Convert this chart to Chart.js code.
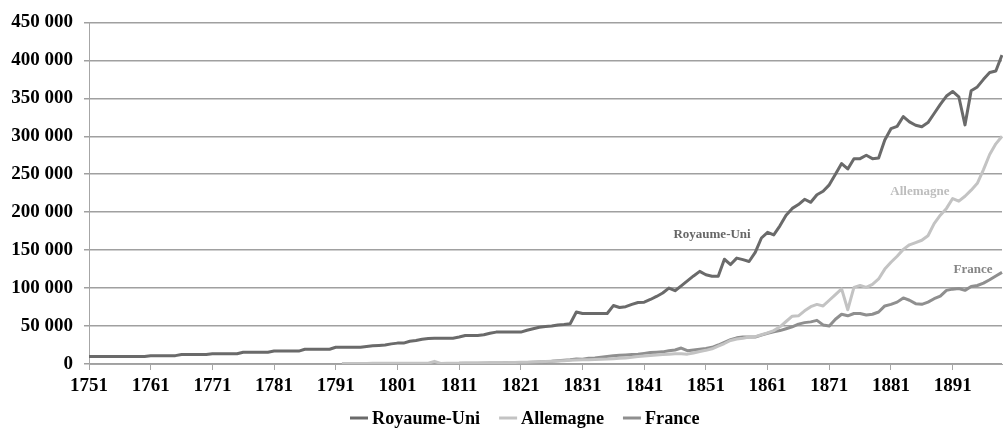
<!DOCTYPE html>
<html>
<head>
<meta charset="utf-8">
<script src="https://cdn.jsdelivr.net/npm/chart.js@4.4.1/dist/chart.umd.min.js"></script>
<style>
html,body{margin:0;padding:0;background:#fff;}
#wrap{width:1003px;height:430px;position:relative;}
</style>
</head>
<body>
<div id="wrap"><canvas id="c" width="1003" height="430"></canvas></div>
<script>
// Years 1751..1899
const firstYear = 1751;
const lastYear = 1899;
const seriesNames = ["Royaume-Uni", "Allemagne", "France"];

// Royaume-Uni, 1751..1899
const ukValues = [
  9800,9800,9800,9800,9800,9800,9800,9800,9800,9800,          // 1751-1760
  11000,11000,11000,11000,11000,12500,12500,12500,12500,12500, // 1761-1770
  13500,13500,13500,13500,13500,15500,15500,15500,15500,15500, // 1771-1780
  17000,17000,17000,17000,17000,19500,19500,19500,19500,19500, // 1781-1790
  22000,22000,22000,22000,22000,23000,24000,24500,25000,26500, // 1791-1800
  27500,27500,30000,31000,32500,33500,34000,34000,34000,34000, // 1801-1810
  35500,37500,37500,37500,38500,40500,42000,42000,42000,42000, // 1811-1820
  42000,44500,46500,48500,49500,50000,51500,52000,53000,68500, // 1821-1830
  66500,66500,66500,66500,66500,77000,74500,75500,78500,81000, // 1831-1840
  81500,85000,89000,93500,100000,96500,103000,109500,116000,122000, // 1841-1850
  117500,115500,115500,138000,131000,139500,137500,135000,147000,166000, // 1851-1860
  173500,170000,182000,196000,205000,210000,217000,213000,223000,227500, // 1861-1870
  236000,250000,264000,257000,270500,270500,275000,270500,271500,295000, // 1871-1880
  310000,313000,326000,319000,314500,312500,318000,330000,342000,353000, // 1881-1890
  359000,352000,315000,360000,365000,375000,384000,386000,407000        // 1891-1899
];

// Allemagne, from 1792..1899
const deStart = 1792;
const deValues = [
  600,800,800,800,800,900,900,900,900,900,               // 1792-1801
  1000,1000,1000,1000,1000,3500,800,900,1000,1100,      // 1802-1811
  1200,1300,1400,1500,1600,1700,1800,1900,2000,2200,    // 1812-1821
  2400,2700,3000,3400,3700,4000,4400,4800,5300,5500,    // 1822-1831
  5600,6000,6300,6500,7000,7500,8000,8800,9800,10500,   // 1832-1841
  11200,11700,12400,13000,13400,13400,13000,14500,16500,18000, // 1842-1851
  20000,23500,27000,31000,33000,34000,35500,36000,38500,41000, // 1852-1861
  44000,49000,56000,63000,63500,70000,75500,78500,76500,84000, // 1862-1871
  91500,99000,71500,101000,103500,101000,105000,112000,125000,134000, // 1872-1881
  142000,151000,157000,160000,163000,169000,185000,196000,205000,218000, // 1882-1891
  214500,221000,229000,238000,256000,276000,290000,300000  // 1892-1899
];

// France, from 1811..1899
const frStart = 1811;
const frValues = [
  900,1000,1000,1100,1100,1200,1300,1400,1500,1600,     // 1811-1820
  1800,2000,2300,2600,3000,3500,4300,5000,5500,6500,    // 1821-1830
  6200,7500,8000,9000,10000,11000,11500,12000,12500,13000, // 1831-1840
  14000,15000,15500,16000,17500,18500,21000,17500,18500,19500, // 1841-1850
  20500,22000,25000,28500,32000,34500,35500,35500,35500,38000, // 1851-1860
  40500,42500,44000,46500,49000,52500,54500,55500,57500,51500, // 1861-1870
  50000,59000,65500,63500,66500,66500,64500,65500,68500,76500, // 1871-1880
  78500,81500,87000,84000,79500,78600,81500,86000,89500,97000, // 1881-1890
  98600,99500,97000,102000,103400,106500,111000,116000,120700  // 1891-1899
];

const yTickMax = 450000;
const yTickStep = 50000;
const xLabelEvery = 10;

// Build category labels and aligned series
const years = [];
for (let y = firstYear; y <= lastYear; y++) years.push(String(y));
function align(start, vals) {
  return years.map((y, i) => {
    const k = (+y) - start;
    return (k >= 0 && k < vals.length) ? vals[k] : null;
  });
}

const colors = ["#6a6a6a", "#c3c3c3", "#8f8f8f"];
const labelColors = ["#666666", "#bdbdbd", "#858585"];
// In-chart series labels: [year, value] anchor from the picture
const seriesLabelAnchors = [[1852, 171000], [1885.7, 227000], [1894.3, 124000]];

const FONT = "'Liberation Serif', 'Times New Roman', serif";

const labelPlugin = {
  id: 'seriesLabels',
  afterDatasetsDraw(chart) {
    const ctx = chart.ctx;
    const xs = chart.scales.x, ys = chart.scales.y;
    ctx.save();
    ctx.font = "bold 13px " + FONT;
    ctx.textAlign = 'center';
    ctx.textBaseline = 'middle';
    seriesNames.forEach((n, i) => {
      const [yr, v] = seriesLabelAnchors[i];
      const idx = yr - firstYear;
      const x0 = xs.getPixelForValue(Math.floor(idx));
      const x1 = xs.getPixelForValue(Math.floor(idx) + 1);
      const px = x0 + (x1 - x0) * (idx - Math.floor(idx));
      ctx.fillStyle = labelColors[i];
      ctx.fillText(n, px, ys.getPixelForValue(v));
    });
    ctx.restore();
  }
};

// Legend drawn on the canvas (line sample + bold label)
const legendPlugin = {
  id: 'bottomLegend',
  afterDraw(chart) {
    const ctx = chart.ctx;
    ctx.save();
    ctx.textBaseline = 'middle';
    ctx.textAlign = 'left';
    // size the font so that the first label is about 108 px wide
    ctx.font = "bold 20px " + FONT;
    const w20 = ctx.measureText(seriesNames[0]).width;
    const fs = Math.max(14, Math.min(24, 20 * 108 / w20));
    ctx.font = "bold " + fs.toFixed(1) + "px " + FONT;
    const yMid = 418;
    const sample = 18, gapText = 4, gapItem = 19;
    let x = 350;
    const widths = seriesNames.map(n => ctx.measureText(n).width);
    seriesNames.forEach((n, i) => {
      ctx.strokeStyle = colors[i];
      ctx.lineWidth = 3;
      ctx.beginPath();
      ctx.moveTo(x, yMid);
      ctx.lineTo(x + sample, yMid);
      ctx.stroke();
      x += sample + gapText;
      ctx.fillStyle = '#000';
      ctx.fillText(n, x, yMid + 1);
      x += widths[i] + gapItem;
    });
    ctx.restore();
  }
};

new Chart(document.getElementById('c'), {
  type: 'line',
  data: {
    labels: years,
    datasets: [
      { label: seriesNames[0], data: ukValues, borderColor: colors[0], backgroundColor: colors[0], borderWidth: 3 },
      { label: seriesNames[1], data: align(deStart, deValues), borderColor: colors[1], backgroundColor: colors[1], borderWidth: 3 },
      { label: seriesNames[2], data: align(frStart, frValues), borderColor: colors[2], backgroundColor: colors[2], borderWidth: 3 }
    ]
  },
  options: {
    responsive: false,
    animation: false,
    devicePixelRatio: 1,
    elements: { point: { radius: 0 }, line: { tension: 0, borderJoinStyle: 'round', borderCapStyle: 'butt' } },
    layout: { padding: { top: 21, right: 1, left: 0, bottom: 26 } },
    plugins: {
      legend: { display: false },
      tooltip: { enabled: false }
    },
    scales: {
      x: {
        offset: false,
        border: { color: '#a6a6a6', width: 1 },
        grid: { drawOnChartArea: false, drawTicks: true, tickLength: 6, color: '#a6a6a6', offset: false },
        ticks: {
          autoSkip: false, maxRotation: 0, minRotation: 0, padding: 5,
          color: '#000',
          font: { family: FONT, size: 19, weight: 'bold' },
          callback: function(v, i) { return (i % xLabelEvery === 0) ? this.getLabelForValue(v) : null; }
        },
        afterFit: s => { s.height = 40; }
      },
      y: {
        min: 0, max: yTickMax,
        border: { color: '#a6a6a6', width: 1 },
        grid: { color: '#a0a0a0', lineWidth: 1.5, drawTicks: true, tickLength: 5 },
        ticks: {
          stepSize: yTickStep, padding: 11,
          color: '#000',
          font: { family: FONT, size: 19, weight: 'bold' },
          callback: v => String(v).replace(/\B(?=(\d{3})+(?!\d))/g, ' ')
        },
        afterFit: s => { s.width = 89; }
      }
    }
  },
  plugins: [labelPlugin, legendPlugin]
});
</script>
</body>
</html>
